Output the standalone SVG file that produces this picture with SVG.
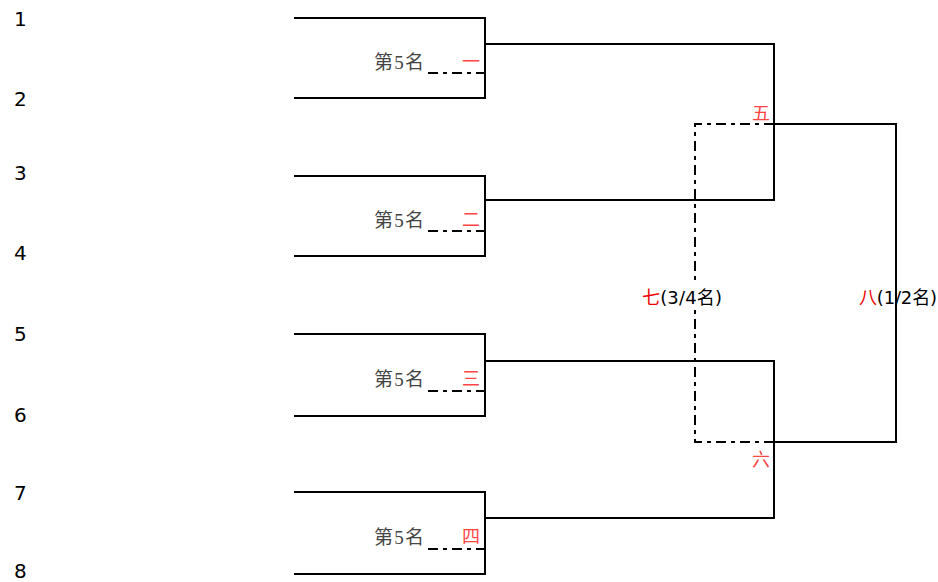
<svg xmlns="http://www.w3.org/2000/svg" width="938" height="582" viewBox="0 0 938 582">
<style>
.ln{fill:none;stroke:#000;stroke-width:2}
.dd{fill:none;stroke:#000;stroke-width:2;stroke-dasharray:10 5 4 5}
.num{font-family:"DejaVu Sans",sans-serif;font-size:20px;fill:#000}
.pl{font-family:"Liberation Serif","Noto Sans CJK SC",serif;font-size:19px;fill:#444}
.rn{font-family:"Noto Sans CJK SC",sans-serif;font-size:18px;fill:#f44}
.lb{font-family:"DejaVu Sans","Noto Sans CJK SC",sans-serif;font-size:18px;fill:#000}
.red{fill:#e00}
</style>
<g id="seeds">
<text class="num" x="14" y="26">1</text>
<text class="num" x="14" y="106">2</text>
<text class="num" x="14" y="180">3</text>
<text class="num" x="14" y="260">4</text>
<text class="num" x="14" y="341">5</text>
<text class="num" x="14" y="422">6</text>
<text class="num" x="14" y="500">7</text>
<text class="num" x="14" y="578">8</text>
</g>
<g id="match1">
<path class="ln" d="M294 18H485V98H294"/>
<path class="dd" d="M428 73H485"/>
<text class="pl" x="374" y="69" textLength="50">第5名</text>
<text class="rn" x="462" y="68">一</text>
</g>
<g id="match2">
<path class="ln" d="M294 176H485V256H294"/>
<path class="dd" d="M428 231H485"/>
<text class="pl" x="374" y="227" textLength="50">第5名</text>
<text class="rn" x="462" y="226">二</text>
</g>
<g id="match3">
<path class="ln" d="M294 334H485V416H294"/>
<path class="dd" d="M428 391H485"/>
<text class="pl" x="374" y="386" textLength="50">第5名</text>
<text class="rn" x="462" y="385">三</text>
</g>
<g id="match4">
<path class="ln" d="M294 492H485V574H294"/>
<path class="dd" d="M428 549H485"/>
<text class="pl" x="374" y="544" textLength="50">第5名</text>
<text class="rn" x="462" y="543">四</text>
</g>
<g id="connectors">
<path class="ln" d="M485 44H774V200H485"/>
<path class="ln" d="M485 361H774V518H485"/>
<path class="ln" d="M774 124H896V442H774"/>
<path class="dd" d="M774 124H695V285"/>
<path class="dd" d="M774 442H695V310"/>
</g>
<g id="semi1">
<text class="rn" x="752" y="120">五</text>
</g>
<g id="semi2">
<text class="rn" x="752" y="466">六</text>
</g>
<g id="third">
<text class="lb" x="642" y="304" textLength="80"><tspan class="red">七</tspan>(3/4名)</text>
</g>
<g id="final">
<text class="lb" x="859" y="304" textLength="78"><tspan class="red">八</tspan>(1/2名)</text>
</g>
</svg>
